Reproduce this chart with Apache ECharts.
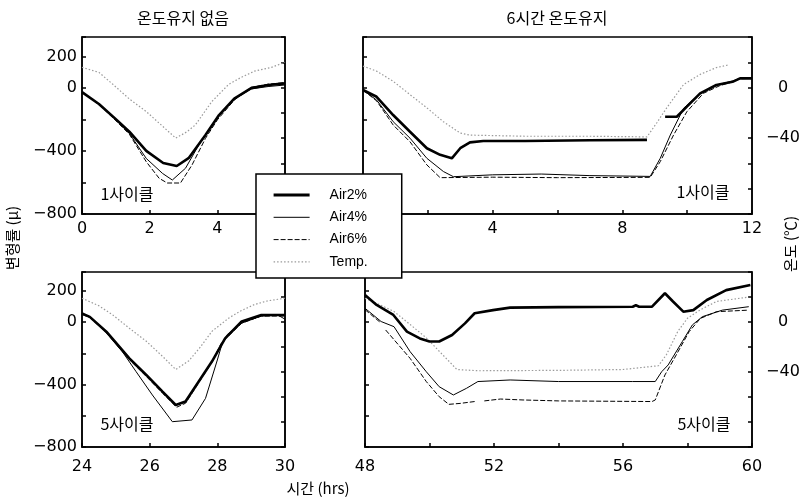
<!DOCTYPE html>
<html>
<head>
<meta charset="utf-8">
<script src="https://cdn.jsdelivr.net/npm/echarts/dist/echarts.min.js"></script>
<style>
  html, body { margin: 0; padding: 0; background: #fff; }
  #chart { width: 810px; height: 497px; }
</style>
</head>
<body>
<div id="chart"></div>
<script>
// 데이터: [시간(hrs), 변형률(μ)] / [시간, 온도(°C)]
// 온도유지 없음, 1사이클 (0~6 hrs)
const c1Air2 = [[0,-25],[0.5,-101],[1.0,-197],[1.4,-277],[1.9,-399],[2.4,-476],[2.8,-495],[3.15,-445],[3.65,-298],[4.05,-171],[4.5,-66],[5.0,0],[5.5,20],[6,30]];
const c1Air4 = [[0,-25],[0.5,-101],[1.0,-202],[1.4,-288],[1.9,-447],[2.38,-542],[2.67,-584],[3.06,-509],[3.45,-362],[3.84,-234],[4.2,-137],[4.5,-71],[5.0,-5],[5.5,10],[6,20]];
const c1Air6 = [[0,-25],[0.5,-104],[1.0,-207],[1.4,-293],[1.9,-468],[2.28,-573],[2.52,-603],[2.91,-603],[3.25,-489],[3.65,-319],[4.0,-202],[4.5,-76],[5.0,5],[5.5,25],[6,35]];
const c1Temp = [[0,16],[0.5,12],[0.92,2.4],[1.4,-9],[1.9,-19],[2.4,-31],[2.77,-40],[3.1,-35],[3.35,-29.6],[3.84,-11],[4.33,2.4],[4.7,8],[5.1,13],[5.6,16],[6,20]];

// 온도유지 없음, 5사이클 (24~30 hrs)
const c5Air2 = [[24,54],[24.23,33],[24.72,-62],[25.4,-233],[25.9,-339],[26.38,-446],[26.77,-531],[27.06,-509],[27.45,-381],[27.84,-253],[28.23,-105],[28.72,3],[29.3,45],[30,45]];
const c5Air4 = [[24,54],[24.3,23],[24.72,-69],[25.2,-192],[25.6,-318],[26.08,-467],[26.67,-638],[27.25,-627],[27.65,-489],[28.0,-243],[28.13,-147],[28.3,-79],[28.72,-7],[29.3,38],[29.8,43],[30,18]];
const c5Air6 = [[24,49],[24.23,28],[24.72,-67],[25.4,-241],[25.9,-348],[26.38,-456],[26.8,-545],[27.06,-520],[27.45,-389],[27.84,-258],[28.1,-141],[28.23,-110],[28.72,-7],[29.3,38],[30,38]];
const c5Temp = [[24,19],[24.5,13],[24.9,5.8],[25.4,-5],[25.9,-15.4],[26.4,-28],[26.77,-38],[27.16,-31],[27.5,-20],[27.84,-7.5],[28.33,3],[28.7,9],[29.1,14],[29.5,17],[30,19]];

// 6시간 온도유지, 1사이클 (0~12 hrs)
const h1Air2 = [[0,-12],[0.42,-55],[0.93,-171],[1.45,-277],[1.97,-382],[2.38,-424],[2.74,-446],[3.0,-382],[3.3,-345],[3.71,-336],[5,-336],[7,-331],[8.76,-329],[9.05,'-'],[9.32,-182],[9.68,-182],[9.99,-118],[10.4,-33],[10.9,20],[11.4,40],[11.63,62],[12,62]];
const h1Air4 = [[0,-12],[0.42,-76],[0.93,-213],[1.45,-318],[1.97,-446],[2.48,-530],[2.79,-563],[4,-551],[5.5,-546],[7,-556],[8.86,-561],[9.17,-446],[9.48,-298],[9.89,-128],[10.4,-33],[10.9,20],[11.4,45],[11.63,62],[12,62]];
const h1Air6 = [[0,-12],[0.42,-81],[0.93,-234],[1.45,-341],[1.97,-488],[2.38,-569],[4,-566],[6,-569],[8.86,-567],[9.17,-467],[9.58,-298],[9.99,-150],[10.5,-33],[11,15],[11.4,40],[11.63,60],[12,62]];
const h1Temp = [[0,17],[0.42,13],[0.93,5],[1.45,-5.6],[1.97,-16],[2.48,-27],[3.0,-36],[3.3,-37.6],[5,-38.5],[7,-38.5],[8.76,-39],[9.06,-28],[9.37,-16],[9.89,2.4],[10.4,10.4],[10.9,15.8],[11.3,18]];

// 6시간 온도유지, 5사이클 (48~60 hrs)
const h5Air2 = [[48,173],[48.36,109],[48.88,45],[49.3,-62],[49.7,-105],[50.0,-125],[50.3,-125],[50.7,-83],[51.1,-9],[51.4,56],[51.97,76],[52.5,92],[54,95],[56.3,98],[56.4,107],[56.5,98],[56.9,98],[57.3,184],[57.55,131],[57.87,66],[58.18,76],[58.6,141],[59.2,204],[59.95,237]];
const h5Air4 = [[48,88],[48.5,3],[48.9,-30],[49.4,-190],[49.9,-318],[50.3,-414],[50.74,-467],[51.15,-424],[51.5,-381],[52.5,-371],[54,-381],[56.3,-381],[57.0,-381],[57.2,-318],[57.4,-275],[57.84,-125],[58.15,-19],[58.46,34],[59.08,76],[59.9,98]];
const h5Air6 = [[48,79],[48.5,-7],[48.58,'-'],[48.64,-51],[49.4,-233],[49.9,-381],[50.3,-478],[50.6,-527],[50.95,-521],[51.4,-509],[51.55,'-'],[51.7,-505],[52.2,-493],[52.9,-499],[54,-505],[56.9,-509],[57.0,-499],[57.3,-339],[57.65,-211],[58.05,-62],[58.4,23],[58.9,66],[59.9,76]];
const h5Temp = [[48,19],[48.36,15],[48.9,8.4],[49.4,-2],[49.9,-12.7],[50.4,-26],[50.85,-38],[51.5,-39],[54,-38.7],[56,-38],[57.1,-35],[57.35,-26],[57.7,-7.5],[58.0,3],[58.4,9.8],[58.9,16.4],[59.9,20]];

const xRanges = [[0, 6], [0, 12], [24, 30], [48, 60]];
const strainMax = [325, 325, 320, 320];
const strainLabels = [200, 0, -400, -800];
const tempLabels = [0, -40];
const legendNames = ['Air2%', 'Air4%', 'Air6%', 'Temp.'];

const FONT = "'Liberation Sans', 'Noto Sans CJK KR', sans-serif";
const NFONT = "'DejaVu Sans', 'Liberation Sans', sans-serif";
const KFONT = "'Noto Sans CJK KR', 'Liberation Sans', sans-serif";

function minus(v) {
  return v < 0 ? '\u2212' + Math.abs(v) : String(v);
}

let myChart = echarts.init(document.getElementById('chart'), null, { renderer: 'canvas' });

const grids = [
  { left: 82, top: 37, width: 203, height: 177 },
  { left: 363, top: 37, width: 389, height: 177 },
  { left: 82, top: 272, width: 203, height: 175 },
  { left: 365, top: 272, width: 387, height: 175 }
].map(g => Object.assign(g, { show: true, borderColor: '#000', borderWidth: 1.5 }));

const xAxes = xRanges.map((r, i) => ({
  type: 'value',
  gridIndex: i,
  min: r[0],
  max: r[1],
  interval: 2,
  splitLine: { show: false },
  axisLine: { onZero: false, lineStyle: { color: '#000', width: 1.5 } },
  axisTick: { inside: true, length: 4, lineStyle: { color: '#000', width: 1.5 } },
  axisLabel: {
    color: '#000', fontSize: 16, fontFamily: NFONT, margin: i < 2 ? 7 : 12,
    formatter: v => (i % 2 === 1 && v % 4 !== 0) ? '' : String(v)
  }
}));

const yAxes = [];
for (let i = 0; i < 4; i++) {
  const rightPanel = i % 2 === 1;
  yAxes.push({
    type: 'value', gridIndex: i, position: 'left',
    min: -800, max: strainMax[i], interval: 200,
    splitLine: { show: false },
    axisLine: { show: true, onZero: false, lineStyle: { color: '#000', width: 1.5 } },
    axisTick: { inside: true, length: 4, lineStyle: { color: '#000', width: 1.5 } },
    axisLabel: {
      show: !rightPanel, color: '#000', fontSize: 16, fontFamily: NFONT, margin: 5,
      formatter: v => strainLabels.indexOf(v) >= 0 ? minus(v) : ''
    }
  });
  yAxes.push({
    type: 'value', gridIndex: i, position: 'right',
    min: -100, max: 40, interval: 20,
    splitLine: { show: false },
    axisLine: { show: true, onZero: false, lineStyle: { color: '#000', width: 1.5 } },
    axisTick: { inside: true, length: 4, lineStyle: { color: '#000', width: 1.5 } },
    axisLabel: {
      show: rightPanel, color: '#000', fontSize: 16, fontFamily: NFONT, margin: 31, align: 'center',
      formatter: v => tempLabels.indexOf(v) >= 0 ? minus(v) : ''
    }
  });
}

const styles = {
  'Air2%': { color: '#000', width: 2.6, type: 'solid' },
  'Air4%': { color: '#000', width: 1, type: 'solid' },
  'Air6%': { color: '#000', width: 1, type: [5, 2] },
  'Temp.': { color: '#9a9a9a', width: 1.2, type: [1.5, 2] }
};

const panels = [
  [c1Air2, c1Air4, c1Air6, c1Temp],
  [h1Air2, h1Air4, h1Air6, h1Temp],
  [c5Air2, c5Air4, c5Air6, c5Temp],
  [h5Air2, h5Air4, h5Air6, h5Temp]
];

const series = [];
panels.forEach((sets, i) => {
  sets.forEach((d, k) => {
    const name = legendNames[k];
    series.push({
      name: name,
      type: 'line',
      xAxisIndex: i,
      yAxisIndex: k === 3 ? i * 2 + 1 : i * 2,
      data: d,
      symbol: 'none',
      connectNulls: false,
      lineStyle: styles[name],
      itemStyle: { color: styles[name].color },
      z: k === 3 ? 1 : 2,
      animation: false
    });
  });
});

function txt(x, y, text, size, rot) {
  return {
    type: 'text', x: x, y: y, rotation: rot || 0, z: 10,
    style: { text: text, fontSize: size, fontFamily: KFONT, fill: '#000', textAlign: 'center', textVerticalAlign: 'middle' }
  };
}

let option = {
  backgroundColor: '#fff',
  animation: false,
  grid: grids,
  xAxis: xAxes,
  yAxis: yAxes,
  legend: {
    data: legendNames.map(n => ({
      name: n,
      lineStyle: { color: styles[n].color, width: n === 'Air2%' ? 3.2 : styles[n].width, type: styles[n].type }
    })),
    orient: 'vertical',
    left: 256, top: 174,
    padding: [14, 34, 9, 16],
    itemWidth: 36, itemHeight: 14, itemGap: 8.3,
    backgroundColor: '#fff',
    borderColor: '#000', borderWidth: 1.5, borderRadius: 0,
    itemStyle: { opacity: 0 },
    textStyle: { color: '#000', fontSize: 14, fontFamily: FONT, padding: [0, 0, 0, 15] },
    selectedMode: false,
    z: 20
  },
  graphic: [
    txt(183, 18, '온도유지 없음', 16),
    txt(557, 18, '6시간 온도유지', 16),
    txt(127, 194, '1사이클', 16),
    txt(703, 192, '1사이클', 16),
    txt(127, 424, '5사이클', 16),
    txt(704, 424, '5사이클', 16),
    txt(318, 488, '시간 (hrs)', 15),
    txt(12, 238, '변형률 (μ)', 15, Math.PI / 2),
    txt(790, 244, '온도 (℃)', 15, Math.PI / 2)
  ],
  series: series
};

myChart.setOption(option);
</script>
</body>
</html>
